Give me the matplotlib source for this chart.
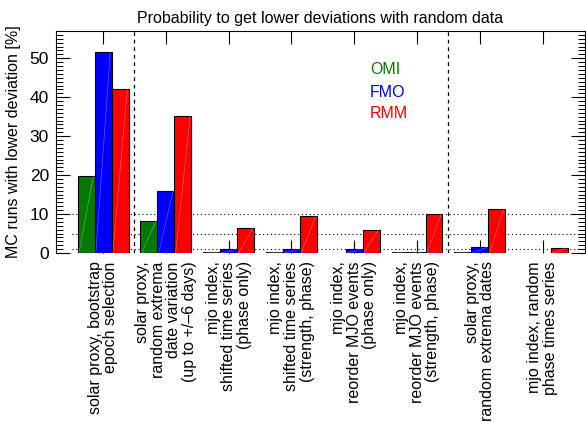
import matplotlib
matplotlib.use("Agg")
import matplotlib.pyplot as plt
import numpy as np
from matplotlib.ticker import MultipleLocator, FixedLocator

plt.rcParams['font.family'] = ['Liberation Sans', 'DejaVu Sans']

categories = [
    "solar proxy, bootstrap\nepoch selection",
    "solar proxy,\nrandom extrema\ndate variation\n(up to +/\u20136 days)",
    "mjo index,\nshifted time series\n(phase only)",
    "mjo index,\nshifted time series\n(strength, phase)",
    "mjo index,\nreorder MJO events\n(phase only)",
    "mjo index,\nreorder MJO events\n(strength, phase)",
    "solar proxy,\nrandom extrema dates",
    "mjo index, random\nphase times series",
]
omi = [19.8, 8.3, 0.2, 0.2, 0.1, 0.3, 0.3, 0.1]
fmo = [51.7, 15.9, 0.95, 0.9, 1.0, 0.3, 1.5, 0.1]
rmm = [42.1, 35.1, 6.35, 9.4, 5.9, 9.95, 11.4, 1.3]
series_names = ["OMI", "FMO", "RMM"]
series_colors = ["#047a04", "#0000ff", "#ff0000"]
ref_levels = [1, 5, 10]
separators = [1.5, 6.5]

fig = plt.figure(figsize=(5.86, 4.22), dpi=100)
ax = fig.add_axes([56/586, 1-253/422, (585-56)/586, (253-31)/422])

x = np.arange(1, len(categories) + 1)
w = 0.27
for k, (vals, col) in enumerate(zip([omi, fmo, rmm], series_colors)):
    xs = x + (k - 1) * w
    ax.bar(xs, vals, width=w, color=col, edgecolor='black', linewidth=0.8, zorder=2)
    for xi, v in zip(xs, vals):
        ax.plot([xi - w/2 + 0.02, xi + w/2 - 0.02], [0, v], color='white',
                alpha=0.35, linewidth=0.5, zorder=2.1)

for lv in ref_levels:
    ax.plot([0.5, 8.68], [lv, lv], color='black', linestyle=(0, (1, 2.5)),
            linewidth=0.8, zorder=1)
for s in separators:
    ax.axvline(s, color='black', linestyle=(0, (3, 3)), linewidth=0.9, zorder=1)

names_y = [47, 41.3, 35.7]
for name, col, yy in zip(series_names, series_colors, names_y):
    ax.text(5.25, yy, name, color=col, fontsize=11.5, va='center', ha='left')

ax.set_xlim(0.25, 8.675)
ax.set_ylim(0, 57)
ax.spines['bottom'].set_visible(False)
for sp in ['left', 'right', 'top']:
    ax.spines[sp].set_linewidth(0.8)

ax.xaxis.set_major_locator(FixedLocator(x))
ax.set_xticklabels(categories, rotation=90, fontsize=11.5, linespacing=1.05,
                   multialignment='right', va='top', ha='center')
ax.tick_params(axis='x', which='major', direction='in', length=9.5, width=0.8,
               top=True, bottom=True, pad=6)
ax.yaxis.set_major_locator(MultipleLocator(10))
ax.yaxis.set_minor_locator(MultipleLocator(1))
ax.tick_params(axis='y', which='major', direction='in', length=10, width=0.8,
               left=True, right=True, labelsize=12.5, pad=5)
ax.tick_params(axis='y', which='minor', direction='in', length=5, width=0.7,
               left=True, right=True)

ax.set_ylabel("MC runs with lower deviation [%]", fontsize=11.5, labelpad=6)
ax.set_title("Probability to get lower deviations with random data", fontsize=11.5, pad=6)

fig.savefig("out.png", dpi=100)
